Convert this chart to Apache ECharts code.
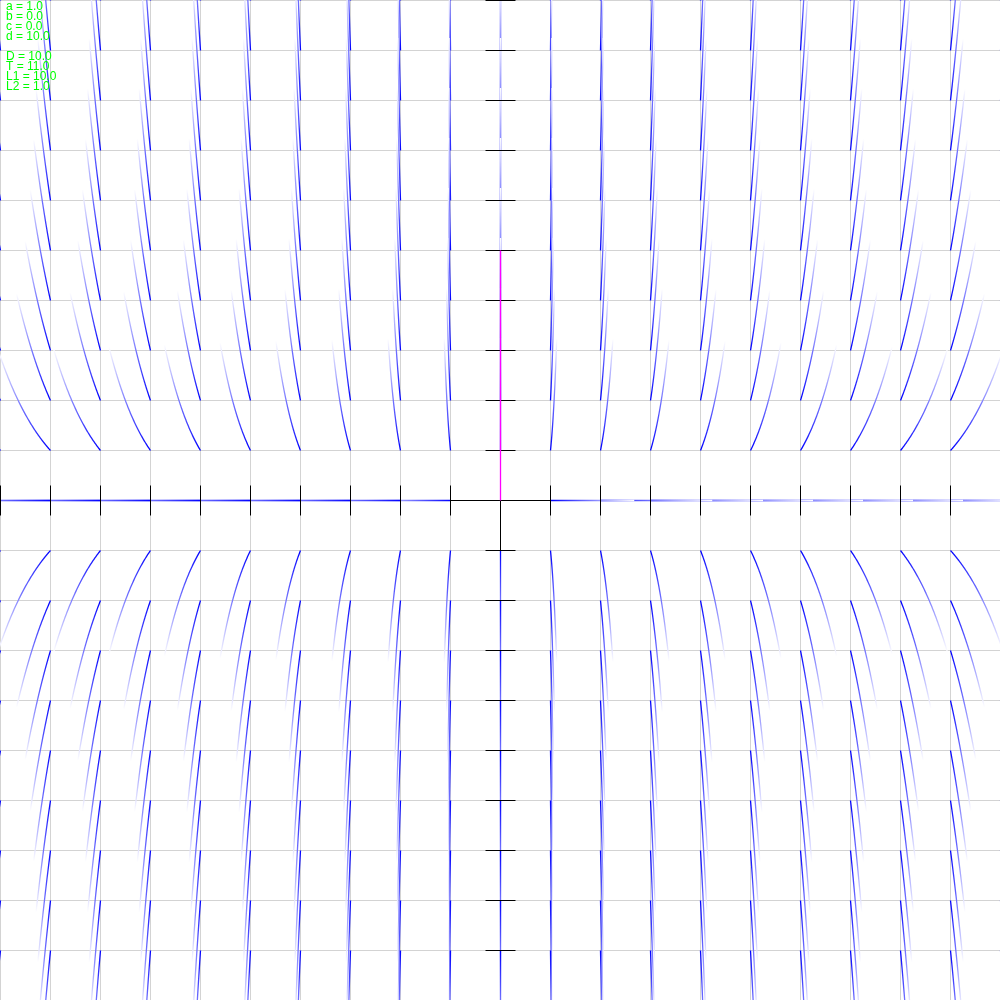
<!DOCTYPE html>
<html>
<head>
<meta charset="utf-8">
<script src="https://cdn.jsdelivr.net/npm/echarts@6/dist/echarts.min.js"></script>
<style>
  html, body { margin: 0; padding: 0; background: #fff; }
  #main { width: 1000px; height: 1000px; }
</style>
</head>
<body>
<div id="main"></div>
<script>
// system  x' = a x + b y ,  y' = c x + d y
var coeffs = [1.0, 0.0, 0.0, 10.0];          // a, b, c, d
var gridValues = [-10, -9, -8, -7, -6, -5, -4, -3, -2, -1, 0, 1, 2, 3, 4, 5, 6, 7, 8, 9, 10];
var tickValues = [-10, -9, -8, -7, -6, -5, -4, -3, -2, -1, 0, 1, 2, 3, 4, 5, 6, 7, 8, 9, 10];
var eigenLine = [[0, 0], [0, 5]];            // dominant eigenvector (L1)
var flowTime = 1.0;                          // time each trace runs
var speedCap = 2.25;                         // max speed of a trace

var a = coeffs[0], b = coeffs[1], c = coeffs[2], d = coeffs[3];
var det = a * d - b * c, tr = a + d;
var disc = Math.sqrt(Math.max(tr * tr - 4 * det, 0));
var infoTop = ['a = ' + a.toFixed(1), 'b = ' + b.toFixed(1), 'c = ' + c.toFixed(1), 'd = ' + d.toFixed(1)];
var infoBottom = ['D = ' + det.toFixed(1), 'T = ' + tr.toFixed(1),
                  'L1 = ' + ((tr + disc) / 2).toFixed(1), 'L2 = ' + ((tr - disc) / 2).toFixed(1)];

function field(p) {
    var vx = a * p[0] + b * p[1], vy = c * p[0] + d * p[1];
    var s = Math.sqrt(vx * vx + vy * vy);
    var k = s > speedCap ? speedCap / s : 1;
    return [vx * k, vy * k];
}

// trace from every grid point (drawn from the top right corner down)
var traces = [];
var nSteps = 100, dt = flowTime / nSteps;
gridValues.slice().reverse().forEach(function (x0) {
    gridValues.slice().reverse().forEach(function (y0) {
        if (x0 === 0 && y0 === 0) return;
        var p = [x0, y0], pts = [p];
        for (var i = 0; i < nSteps; i++) {
            var k1 = field(p);
            var k2 = field([p[0] + k1[0] * dt / 2, p[1] + k1[1] * dt / 2]);
            var k3 = field([p[0] + k2[0] * dt / 2, p[1] + k2[1] * dt / 2]);
            var k4 = field([p[0] + k3[0] * dt, p[1] + k3[1] * dt]);
            p = [p[0] + (k1[0] + 2 * k2[0] + 2 * k3[0] + k4[0]) * dt / 6,
                 p[1] + (k1[1] + 2 * k2[1] + 2 * k3[1] + k4[1]) * dt / 6];
            pts.push(p);
        }
        traces.push(pts);
    });
});

var myChart = echarts.init(document.getElementById('main'));

function px(api, p) {
    var q = api.coord(p);
    return [q[0] + 0.5, q[1] + 0.5];
}

var option = {
    animation: false,
    backgroundColor: '#ffffff',
    grid: { left: 0, right: 0, top: 0, bottom: 0 },
    xAxis: {
        type: 'value', min: -10, max: 10, interval: 1,
        axisLine: { onZero: true, lineStyle: { color: '#000', width: 1 } },
        axisTick: { show: false },
        axisLabel: { show: false },
        splitLine: { show: true, lineStyle: { color: '#d3d3d3', width: 1 } }
    },
    yAxis: {
        type: 'value', min: -10, max: 10, interval: 1,
        axisLine: { onZero: true, lineStyle: { color: '#000', width: 1 } },
        axisTick: { show: false },
        axisLabel: { show: false },
        splitLine: { show: true, lineStyle: { color: '#d3d3d3', width: 1 } }
    },
    graphic: [
        {
            type: 'text', left: 6, top: 1, z: 100,
            style: { text: infoTop.join('\n'), font: '12px "Liberation Sans"', lineHeight: 10, fill: '#00ff00' }
        },
        {
            type: 'text', left: 6, top: 51, z: 100,
            style: { text: infoBottom.join('\n'), font: '12px "Liberation Sans"', lineHeight: 10, fill: '#00ff00' }
        }
    ],
    series: [
        {
            // flow traces, blue fading to white
            type: 'custom', z: 2, silent: true,
            data: traces.map(function (t, i) { return [t[0][0], t[0][1], i]; }),
            renderItem: function (params, api) {
                var t = traces[api.value(2)];
                var pts = t.map(function (p) { return px(api, p); });
                var s = pts[0], e = pts[pts.length - 1];
                return {
                    type: 'polyline',
                    shape: { points: pts },
                    style: {
                        fill: null, lineWidth: 1.3,
                        stroke: new echarts.graphic.LinearGradient(s[0], s[1], e[0], e[1], [
                            { offset: 0, color: '#0000ff' },
                            { offset: 1, color: '#ffffff' }
                        ], true)
                    }
                };
            }
        },
        {
            // ticks crossing both axes
            type: 'custom', z: 3, silent: true,
            data: tickValues.map(function (v) { return [v, 0, 0]; })
                .concat(tickValues.map(function (v) { return [0, v, 1]; })),
            renderItem: function (params, api) {
                var q = px(api, [api.value(0), api.value(1)]);
                var vert = api.value(2) === 0;
                return {
                    type: 'line',
                    shape: vert ? { x1: q[0], y1: q[1] - 15, x2: q[0], y2: q[1] + 15 }
                                : { x1: q[0] - 15, y1: q[1], x2: q[0] + 15, y2: q[1] },
                    style: { stroke: '#000', lineWidth: 1 }
                };
            }
        },
        {
            type: 'custom', z: 4, silent: true,
            data: [[eigenLine[0][0], eigenLine[0][1], eigenLine[1][0], eigenLine[1][1]]],
            renderItem: function (params, api) {
                var p1 = px(api, [api.value(0), api.value(1)]);
                var p2 = px(api, [api.value(2), api.value(3)]);
                return {
                    type: 'line',
                    shape: { x1: p1[0], y1: p1[1], x2: p2[0], y2: p2[1] },
                    style: { stroke: '#ff00ff', lineWidth: 1.3 }
                };
            }
        }
    ]
};

myChart.setOption(option);
</script>
</body>
</html>
